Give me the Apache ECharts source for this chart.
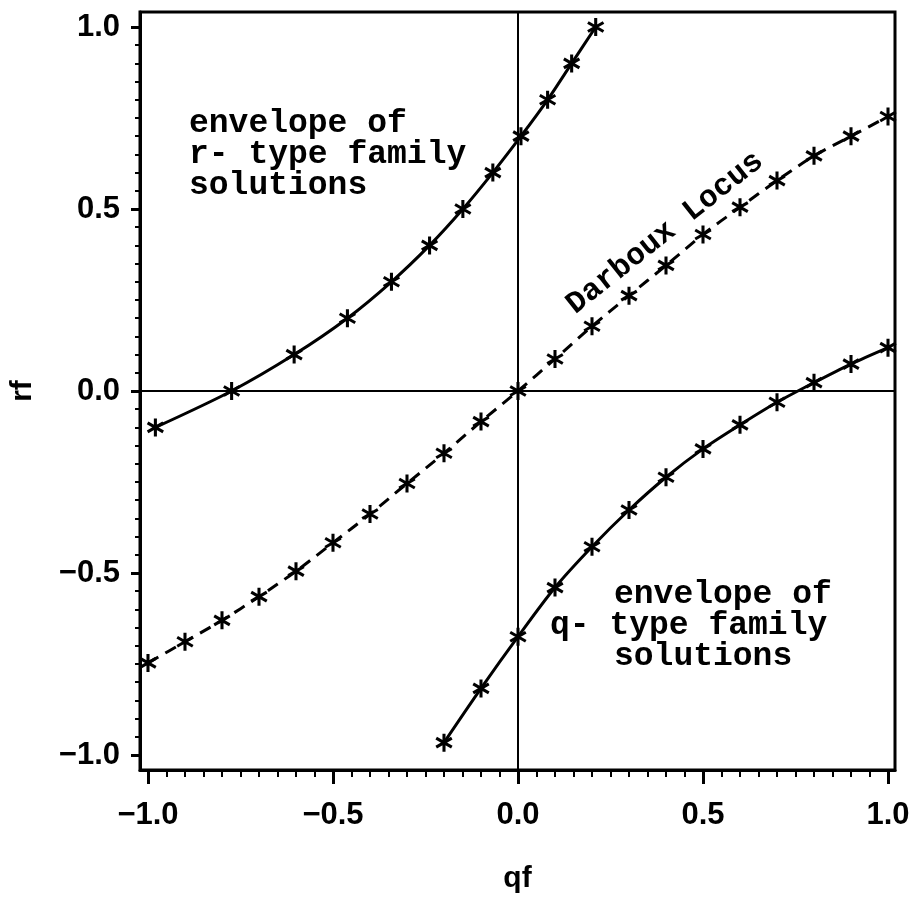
<!DOCTYPE html>
<html>
<head>
<meta charset="utf-8">
<title>Darboux locus</title>
<script src="https://cdn.jsdelivr.net/npm/echarts@6.0.0/dist/echarts.min.js"></script>
<style>
  html, body { margin: 0; padding: 0; background: #fff; }
  #main { width: 916px; height: 906px; }
</style>
</head>
<body>
<div id="main"></div>
<script>
// tick values
var xMajorTicks = [-1.0, -0.5, 0.0, 0.5, 1.0];
var yMajorTicks = [-1.0, -0.5, 0.0, 0.5, 1.0];
var minorTicks = [];
for (var t = -20; t <= 20; t++) minorTicks.push(t / 20);

// envelope of r- type family solutions
var rTypeX = [-0.98, -0.774, -0.605, -0.461, -0.342, -0.239, -0.149, -0.068, 0.008, 0.08, 0.145, 0.21];
var rTypeY = [-0.10, 0.00, 0.10, 0.20, 0.30, 0.40, 0.50, 0.60, 0.70, 0.80, 0.90, 1.00];

// Darboux locus
var darbouxX = [-1.0, -0.9, -0.8, -0.7, -0.6, -0.5, -0.4, -0.3, -0.2, -0.1, 0.0,
                0.1, 0.2, 0.3, 0.4, 0.5, 0.6, 0.7, 0.8, 0.9, 1.0];
var darbouxY = [-0.747, -0.689, -0.63, -0.565, -0.495, -0.417, -0.338, -0.254, -0.171, -0.084, 0.0,
                0.088, 0.178, 0.262, 0.345, 0.43, 0.505, 0.578, 0.646, 0.70, 0.754];

// envelope of q- type family solutions
var qTypeX = [-0.2, -0.1, 0.0, 0.1, 0.2, 0.3, 0.4, 0.5, 0.6, 0.7, 0.8, 0.9, 1.0];
var qTypeY = [-0.966, -0.817, -0.675, -0.54, -0.428, -0.327, -0.237, -0.159, -0.093, -0.031, 0.023, 0.074, 0.119];

var rTypeNote = ['envelope of', 'r- type family', 'solutions'];
var qTypeNote = ['envelope of', 'q- type family', 'solutions'];
var locusNote = 'Darboux Locus';

function pairs(xs, ys) {
    return xs.map(function (x, i) { return [x, ys[i]]; });
}

// six armed asterisk marker
var star = 'path://M-1.7,-10L1.7,-10L1.7,10L-1.7,10Z' +
    'M7.81,-6.47L9.51,-3.53L-7.81,6.47L-9.51,3.53Z' +
    'M9.51,3.53L7.81,6.47L-9.51,-3.53L-7.81,-6.47Z';

function fmt(v) {
    return (v < 0 ? '\u2212' : '') + Math.abs(v).toFixed(1);
}

var labelFont = { fontFamily: 'Liberation Sans', fontSize: 31, fontWeight: 'bold', color: '#000' };
var noteFont = 'bold 33px "Liberation Mono"';

var myChart = echarts.init(document.getElementById('main'));

function noteLines(lines, xs, y0) {
    return lines.map(function (s, i) {
        return {
            type: 'text', x: xs[i], y: y0 + i * 31, z: 10,
            style: { text: s, font: noteFont, fill: '#000', align: 'left', verticalAlign: 'middle',
                     textAlign: 'left', textVerticalAlign: 'middle' }
        };
    });
}

var series = [
    {
        name: 'r-type', type: 'line', data: pairs(rTypeX, rTypeY), smooth: 0.3,
        symbol: star, symbolSize: 18, symbolKeepAspect: true,
        lineStyle: { color: '#000', width: 3 }, itemStyle: { color: '#000' },
        markLine: {
            silent: true, symbol: 'none', label: { show: false },
            lineStyle: { color: '#000', width: 2, type: 'solid' },
            data: [{ xAxis: 0 }, { yAxis: 0 }]
        }
    },
    {
        name: 'Darboux', type: 'line', data: pairs(darbouxX, darbouxY), smooth: 0.3,
        symbol: star, symbolSize: 18, symbolKeepAspect: true,
        lineStyle: { color: '#000', width: 3, type: [12, 8] }, itemStyle: { color: '#000' }
    },
    {
        name: 'q-type', type: 'line', data: pairs(qTypeX, qTypeY), smooth: 0.3,
        symbol: star, symbolSize: 18, symbolKeepAspect: true,
        lineStyle: { color: '#000', width: 3 }, itemStyle: { color: '#000' }
    }
];

var option = {
    animation: false,
    backgroundColor: '#fff',
    grid: {
        left: 138, right: 21, top: 12, bottom: 136,
        show: true, borderColor: '#000', borderWidth: 3, backgroundColor: 'transparent'
    },
    xAxis: [
        {
            type: 'value', position: 'bottom', min: -1.0216, max: 1.0189,
            name: 'qf', nameLocation: 'middle', nameGap: 94,
            nameTextStyle: { fontFamily: 'Liberation Sans', fontSize: 30, fontWeight: 'bold', color: '#000' },
            axisLine: { onZero: false, lineStyle: { color: '#000', width: 3 } },
            axisTick: { customValues: xMajorTicks, length: 14, lineStyle: { color: '#000', width: 3 } },
            axisLabel: Object.assign({ customValues: xMajorTicks, margin: 30, formatter: fmt }, labelFont),
            splitLine: { show: false }
        },
        {
            type: 'value', position: 'bottom', min: -1.0216, max: 1.0189,
            axisLine: { show: false, onZero: false },
            axisTick: { customValues: minorTicks, length: 7, lineStyle: { color: '#000', width: 2 } },
            axisLabel: { show: false },
            splitLine: { show: false }
        }
    ],
    yAxis: [
        {
            type: 'value', position: 'left', min: -1.0412, max: 1.0412,
            name: 'rf', nameLocation: 'middle', nameGap: 102, nameRotate: 90,
            nameTextStyle: { fontFamily: 'Liberation Sans', fontSize: 30, fontWeight: 'bold', color: '#000' },
            axisLine: { onZero: false, lineStyle: { color: '#000', width: 3 } },
            axisTick: { customValues: yMajorTicks, length: 9, lineStyle: { color: '#000', width: 3 } },
            axisLabel: Object.assign({ customValues: yMajorTicks, margin: 20, formatter: fmt }, labelFont),
            splitLine: { show: false }
        },
        {
            type: 'value', position: 'left', min: -1.0412, max: 1.0412,
            axisLine: { show: false, onZero: false },
            axisTick: { customValues: minorTicks, length: 5, lineStyle: { color: '#000', width: 2 } },
            axisLabel: { show: false },
            splitLine: { show: false }
        }
    ],
    graphic: noteLines(rTypeNote, [189, 189, 189], 124)
        .concat(noteLines(qTypeNote, [614, 550, 614], 595))
        .concat([{
            type: 'text', x: 665, y: 233, rotation: 38.5 * Math.PI / 180, z: 10,
            style: { text: locusNote, font: 'bold 31px "Liberation Mono"', fill: '#000',
                     align: 'center', verticalAlign: 'middle', textAlign: 'center', textVerticalAlign: 'middle' }
        }]),
    series: series
};

myChart.setOption(option);
</script>
</body>
</html>
